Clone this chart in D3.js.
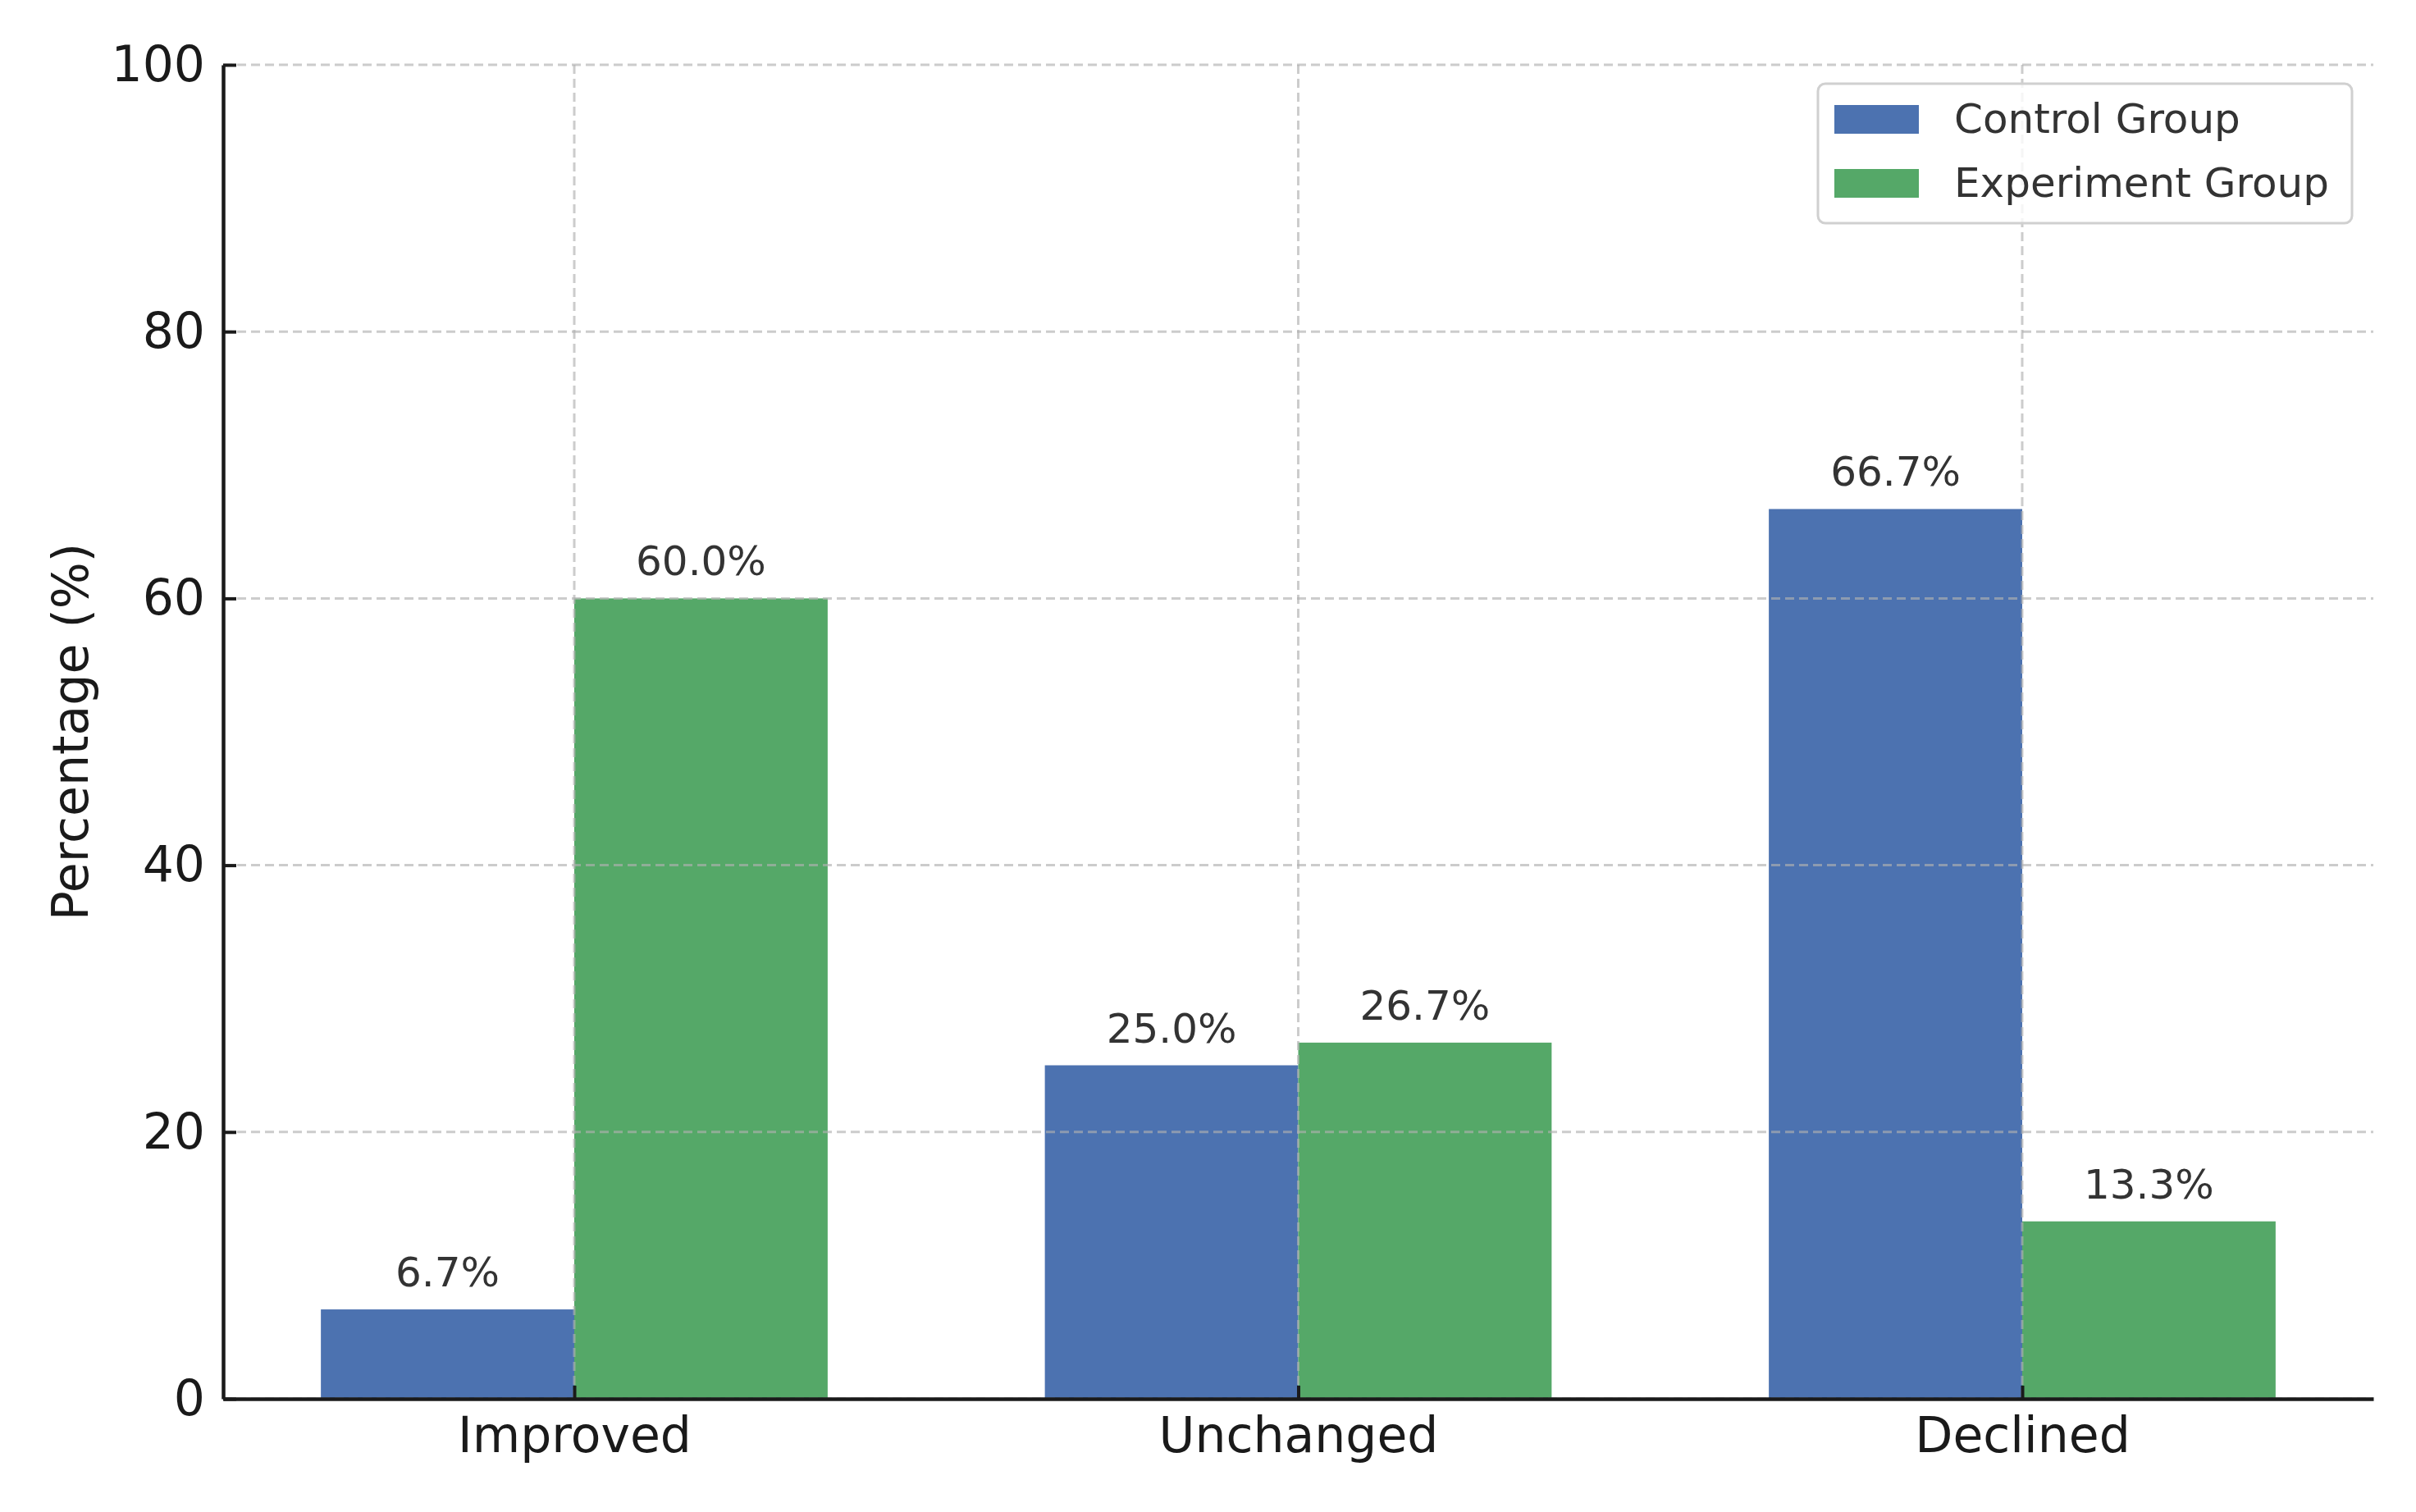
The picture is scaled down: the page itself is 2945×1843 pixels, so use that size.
<!DOCTYPE html>
<html>
<head>
<meta charset="utf-8">
<script src="https://cdn.jsdelivr.net/npm/d3@7"></script>
<style>
  body { margin: 0; background: #fff; }
  svg text { font-family: "DejaVu Sans", sans-serif; }
</style>
</head>
<body>
<div id="chart"></div>
<script>
const categories = ["Improved", "Unchanged", "Declined"];
const control_values = [6.7, 25.0, 66.7];
const experiment_values = [60.0, 26.7, 13.3];
const series_names = ["Control Group", "Experiment Group"];
const y_ticks = [0, 20, 40, 60, 80, 100];

const colors = ["#4C72B0", "#55A868"];
const bar_w = 0.35;

const margin = {
  top: 79,
  right: 52,
  bottom: 138,
  left: 272
};
const full_w = 2945, full_h = 1843;
let width = full_w - margin.left - margin.right;
let height = full_h - margin.top - margin.bottom;

const svg = d3.select("#chart").append("svg")
  .attr("width", full_w)
  .attr("height", full_h);

let x_scale = d3.scaleLinear()
  .domain([-0.485, categories.length - 1 + 0.485])
  .range([0, width]);
let y_scale = d3.scaleLinear()
  .domain([0, 100])
  .range([height, 0]);

let g = svg.append("g")
  .attr("transform", "translate(" + margin.left + "," + margin.top + ")");

// bars
const series = [control_values, experiment_values];
series.forEach((vals, s) => {
  g.selectAll(".bar" + s)
    .data(vals)
    .enter().append("rect")
    .attr("class", "bar" + s)
    .attr("x", (d, i) => x_scale(i - bar_w + s * bar_w))
    .attr("width", x_scale(bar_w) - x_scale(0))
    .attr("y", d => y_scale(d))
    .attr("height", d => y_scale(0) - y_scale(d))
    .style("fill", colors[s]);
});

// grid on top of bars
const grid = g.append("g").attr("class", "grid");
grid.selectAll(".gy")
  .data(y_ticks)
  .enter().append("line")
  .attr("x1", 0).attr("x2", width)
  .attr("y1", d => y_scale(d)).attr("y2", d => y_scale(d));
grid.selectAll(".gx")
  .data(categories)
  .enter().append("line")
  .attr("x1", (d, i) => x_scale(i)).attr("x2", (d, i) => x_scale(i))
  .attr("y1", 0).attr("y2", height);
grid.selectAll("line")
  .style("stroke", "#b0b0b0")
  .style("stroke-opacity", 0.65)
  .style("stroke-width", 3)
  .style("stroke-dasharray", "11,6");

// value labels
series.forEach((vals, s) => {
  g.selectAll(".lab" + s)
    .data(vals)
    .enter().append("text")
    .attr("x", (d, i) => x_scale(i - bar_w / 2 + s * bar_w))
    .attr("y", d => y_scale(d) - 28)
    .attr("text-anchor", "middle")
    .style("font-size", "50px")
    .style("fill", "#333")
    .text(d => d.toFixed(1) + "%");
});

// axes
g.append("g").attr("class", "axis x")
  .attr("transform", "translate(0," + height + ")")
  .call(d3.axisBottom(x_scale)
    .tickValues(d3.range(categories.length))
    .tickFormat(i => categories[i])
    .tickSizeInner(-16).tickSizeOuter(0).tickPadding(22));
g.append("g").attr("class", "axis y")
  .call(d3.axisLeft(y_scale)
    .tickValues(y_ticks)
    .tickSizeInner(-16).tickSizeOuter(0).tickPadding(22));

g.selectAll(".axis path").style("stroke", "#1a1a1a").style("stroke-width", 4.5);
g.selectAll(".axis line").style("stroke", "#1a1a1a").style("stroke-width", 4);
g.selectAll(".axis text").style("font-size", "60px").style("fill", "#1a1a1a")
  .style("font-family", "'DejaVu Sans', sans-serif");

// y label
svg.append("text")
  .attr("transform", "translate(86," + (margin.top + height / 2) + ") rotate(-90)")
  .attr("text-anchor", "middle")
  .attr("dominant-baseline", "central")
  .style("font-size", "60px")
  .style("fill", "#1a1a1a")
  .text("Percentage (%)");

// legend
const legend = svg.append("g")
  .attr("transform", "translate(2216,102)");
legend.append("rect")
  .attr("width", 651).attr("height", 170)
  .attr("rx", 9)
  .style("fill", "#fff").style("fill-opacity", 0.8)
  .style("stroke", "#d0d0d0").style("stroke-width", 3);
series_names.forEach((name, s) => {
  let row = legend.append("g").attr("transform", "translate(0," + (43 + s * 78) + ")");
  row.append("rect")
    .attr("x", 20).attr("y", -17)
    .attr("width", 103).attr("height", 35)
    .style("fill", colors[s]);
  row.append("text")
    .attr("x", 166).attr("y", 0)
    .attr("dominant-baseline", "central")
    .style("font-size", "50px")
    .style("fill", "#333")
    .text(name);
});
</script>
</body>
</html>
